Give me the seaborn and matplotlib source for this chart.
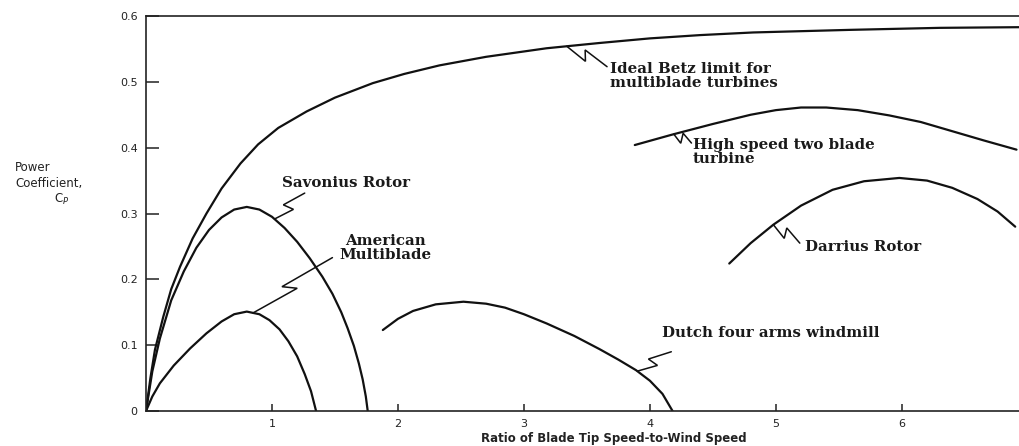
import numpy as np
import pandas as pd
import matplotlib
matplotlib.use("Agg")
import matplotlib.pyplot as plt
import seaborn as sns

# Power coefficient Cp versus tip speed ratio for several rotor types
betz_x = [0.0, 0.035, 0.071, 0.137, 0.2, 0.27, 0.37, 0.48, 0.6, 0.75, 0.89, 1.05, 1.275,
          1.5, 1.8, 2.05, 2.33, 2.7, 3.18, 3.6, 4.0, 4.4, 4.82, 5.6, 6.30, 6.93]
betz_y = [0.0, 0.050, 0.093, 0.143, 0.185, 0.219, 0.262, 0.300, 0.338, 0.376, 0.405, 0.430, 0.455,
          0.476, 0.498, 0.512, 0.525, 0.538, 0.551, 0.559, 0.566, 0.571, 0.575, 0.579, 0.582, 0.583]

savonius_x = [0.0, 0.05, 0.11, 0.2, 0.3, 0.4, 0.5, 0.6, 0.7, 0.8, 0.9, 1.0, 1.1, 1.2, 1.3,
              1.4, 1.48, 1.55, 1.6, 1.65, 1.69, 1.72, 1.745, 1.76]
savonius_y = [0.0, 0.060, 0.110, 0.168, 0.212, 0.248, 0.275, 0.294, 0.306, 0.310, 0.306, 0.295,
              0.278, 0.257, 0.232, 0.204, 0.178, 0.150, 0.126, 0.099, 0.072, 0.048, 0.022, 0.0]

american_x = [0.0, 0.05, 0.11, 0.22, 0.35, 0.48, 0.6, 0.7, 0.8, 0.9, 0.98, 1.06, 1.13, 1.2,
              1.26, 1.31, 1.35]
american_y = [0.0, 0.022, 0.042, 0.069, 0.095, 0.118, 0.136, 0.147, 0.151, 0.147, 0.138, 0.124,
              0.106, 0.083, 0.056, 0.030, 0.0]

dutch_x = [1.88, 2.0, 2.12, 2.3, 2.52, 2.7, 2.85, 3.0, 3.18, 3.4, 3.6, 3.75, 3.89, 4.0, 4.1, 4.18]
dutch_y = [0.123, 0.140, 0.152, 0.162, 0.166, 0.163, 0.157, 0.147, 0.133, 0.114, 0.094, 0.078,
           0.062, 0.046, 0.026, 0.0]

highspeed_x = [3.88, 4.18, 4.5, 4.8, 5.0, 5.2, 5.4, 5.65, 5.9, 6.15, 6.4, 6.65, 6.91]
highspeed_y = [0.404, 0.420, 0.436, 0.450, 0.457, 0.461, 0.461, 0.457, 0.449, 0.439, 0.425,
               0.411, 0.397]

darrieus_x = [4.63, 4.8, 4.98, 5.2, 5.45, 5.7, 5.98, 6.2, 6.4, 6.6, 6.76, 6.90]
darrieus_y = [0.224, 0.255, 0.283, 0.312, 0.336, 0.349, 0.354, 0.350, 0.339, 0.322, 0.303, 0.280]

x_ticks = [1, 2, 3, 4, 5, 6]
y_ticks = [0, 0.1, 0.2, 0.3, 0.4, 0.5, 0.6]
y_tick_labels = ["0", "0.1", "0.2", "0.3", "0.4", "0.5", "0.6"]

series = {
    "betz": (betz_x, betz_y),
    "savonius": (savonius_x, savonius_y),
    "american": (american_x, american_y),
    "dutch": (dutch_x, dutch_y),
    "highspeed": (highspeed_x, highspeed_y),
    "darrieus": (darrieus_x, darrieus_y),
}

sns.set_style("white")
plt.rcParams["font.family"] = ["DejaVu Sans"]

fig = plt.figure(figsize=(10.19, 4.46), dpi=100)
ax = fig.add_axes([146 / 1019, 35 / 446, 1 - 146 / 1019, 395 / 446])

for name, (xs, ys) in series.items():
    df = pd.DataFrame({"ratio": xs, "cp": ys})
    sns.lineplot(data=df, x="ratio", y="cp", ax=ax, color="#111111",
                 linewidth=1.6, sort=False, estimator=None)

ax.set_xlim(0, 6.93)
ax.set_ylim(0, 0.6)
ax.set_xticks(x_ticks)
ax.set_xticklabels([str(t) for t in x_ticks])
ax.set_yticks(y_ticks)
ax.set_yticklabels(y_tick_labels)
ax.set_xlabel("")
ax.set_ylabel("")
for side in ("left", "bottom", "top"):
    ax.spines[side].set_visible(True)
    ax.spines[side].set_color("#222222")
    ax.spines[side].set_linewidth(1.2)
ax.spines["right"].set_visible(False)
ax.tick_params(axis="y", direction="in", length=9, width=1.1, pad=6,
               labelsize=8, colors="#222222", left=True)
ax.tick_params(axis="x", direction="in", length=5, width=1.1, pad=6,
               labelsize=8, colors="#222222", bottom=True)

fig.text(0.602, 0.002, "Ratio of Blade Tip Speed-to-Wind Speed", ha="center",
         va="bottom", fontsize=8.5, color="#222222", fontweight="bold")
fig.text(15 / 1019, 1 - 167 / 446, "Power", fontsize=8.5, va="center", color="#222222")
fig.text(15 / 1019, 1 - 183 / 446, "Coefficient,", fontsize=8.5, va="center", color="#222222")
fig.text(54 / 1019, 1 - 199 / 446, r"C$_P$", fontsize=8.5, va="center", color="#222222")


def curve_point(name, x):
    xs, ys = series[name]
    return x, float(np.interp(x, xs, ys))


def zigzag(p0, p1, amp=5.0):
    """Lightning-style leader between two data points, drawn in pixel space."""
    a = ax.transData.transform(p0)
    b = ax.transData.transform(p1)
    d = b - a
    n = np.array([-d[1], d[0]]) / np.hypot(*d)
    pts = [a, a + 0.52 * d - amp * n, a + 0.40 * d + amp * n, b]
    pts = ax.transData.inverted().transform(np.array(pts))
    ax.plot(pts[:, 0], pts[:, 1], color="#111111", lw=1.1, solid_joinstyle="miter")


label_font = dict(family="DejaVu Serif", fontweight="bold", fontsize=10.8,
                  color="#1a1a1a", linespacing=1.0)

annotations = [
    ("betz", 3.34, (3.66, 0.523), (3.68, 0.509), "Ideal Betz limit for\nmultiblade turbines", "left"),
    ("highspeed", 4.19, (4.33, 0.407), (4.34, 0.393), "High speed two blade\nturbine", "left"),
    ("darrieus", 4.98, (5.19, 0.255), (5.23, 0.249), "Darrius Rotor", "left"),
    ("savonius", 1.02, (1.26, 0.331), (1.08, 0.3465), "Savonius Rotor", "left"),
    ("american", 0.85, (1.48, 0.233), (1.90, 0.247), "American\nMultiblade", "center"),
    ("dutch", 3.90, (4.17, 0.090), (4.10, 0.1185), "Dutch four arms windmill", "left"),
]
for name, cx, end, tpos, text, ha in annotations:
    zigzag(curve_point(name, cx), end)
    ax.text(tpos[0], tpos[1], text, ha=ha, va="center", multialignment=ha, **label_font)

fig.savefig("out.png", dpi=100)
